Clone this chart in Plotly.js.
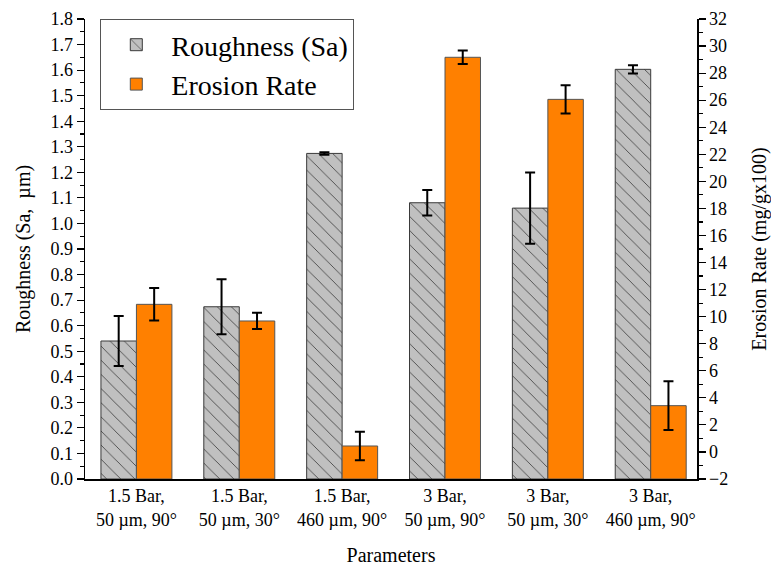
<!DOCTYPE html>
<html>
<head>
<meta charset="utf-8">
<script src="https://cdn.plot.ly/plotly-3.0.1.min.js"></script>
<style>html,body{margin:0;padding:0;background:#fff;}#chart{width:771px;height:566px;}</style>
</head>
<body>
<div id="chart"></div>
<script>
const categories = [
  "1.5 Bar,<br>50 µm, 90°",
  "1.5 Bar,<br>50 µm, 30°",
  "1.5 Bar,<br>460 µm, 90°",
  "3 Bar,<br>50 µm, 90°",
  "3 Bar,<br>50 µm, 30°",
  "3 Bar,<br>460 µm, 90°"
];
const roughness = [0.54, 0.674, 1.274, 1.081, 1.060, 1.603];
const roughnessErr = [0.098, 0.108, 0.005, 0.05, 0.139, 0.016];
const erosionRate = [10.91, 9.68, 0.44, 29.17, 26.06, 3.42];
const erosionErr = [1.2, 0.6, 1.05, 0.5, 1.05, 1.8];

const font = "Liberation Serif";
const erosionBase = -2;

const traces = [
  {
    type: 'bar', name: 'Roughness (Sa)', x: categories, y: roughness,
    yaxis: 'y', width: 0.345, offset: -0.345,
    marker: {color: '#c0c0c0', line: {color: '#3a3a3a', width: 1},
      pattern: {shape: '\\', fgcolor: '#3a3a3a', bgcolor: '#c0c0c0', size: 10, solidity: 0.08}},
    error_y: {type: 'data', array: roughnessErr, visible: true, color: '#000', thickness: 2, width: 5}
  },
  {
    type: 'bar', name: 'Erosion Rate', x: categories,
    y: erosionRate.map(v => v - erosionBase), base: erosionBase,
    yaxis: 'y2', width: 0.345, offset: 0,
    marker: {color: '#ff8000', line: {color: '#555', width: 1}},
    error_y: {type: 'data', array: erosionErr, visible: true, color: '#000', thickness: 2, width: 5}
  }
];

const layout = {
  width: 771, height: 566,
  margin: {l: 85, r: 74, t: 19, b: 87},
  paper_bgcolor: '#fff', plot_bgcolor: '#fff',
  font: {family: font, color: '#000', size: 18},
  showlegend: true,
  legend: {x: 0.025, y: 1.0, xanchor: 'left', yanchor: 'top',
    bordercolor: '#555', borderwidth: 1, bgcolor: '#fff',
    font: {family: font, size: 28, color: '#000'}, tracegroupgap: 0, itemwidth: 60},
  xaxis: {
    type: 'category', range: [-0.5, 5.45],
    showline: true, linecolor: '#000', linewidth: 1.5, ticks: '', showgrid: false,
    tickfont: {family: font, size: 18}, mirror: false,
    title: {text: 'Parameters', font: {family: font, size: 20}, standoff: 20}
  },
  yaxis: {
    range: [0, 1.8], dtick: 0.1, tick0: 0, tickformat: '.1f',
    showline: true, linecolor: '#000', linewidth: 1.5, ticks: 'outside', ticklen: 7, tickwidth: 1.2,
    tickcolor: '#000', showgrid: false, zeroline: false,
    minor: {ticks: 'outside', dtick: 0.05, ticklen: 4, tickcolor: '#000', showgrid: false},
    tickfont: {family: font, size: 18},
    title: {text: 'Roughness (Sa,  µm)', font: {family: font, size: 20}, standoff: 14}
  },
  yaxis2: {
    overlaying: 'y', side: 'right', range: [-2, 32], dtick: 2, tick0: 0,
    showline: true, linecolor: '#000', linewidth: 1.5, ticks: 'outside', ticklen: 7, tickwidth: 1.2,
    tickcolor: '#000', showgrid: false, zeroline: false,
    minor: {ticks: 'outside', dtick: 1, ticklen: 4, tickcolor: '#000', showgrid: false},
    tickfont: {family: font, size: 18},
    title: {text: 'Erosion Rate (mg/gx100)', font: {family: font, size: 20}, standoff: 24}
  }
};

Plotly.newPlot('chart', traces, layout, {displayModeBar: false, staticPlot: true});
</script>
</body>
</html>
